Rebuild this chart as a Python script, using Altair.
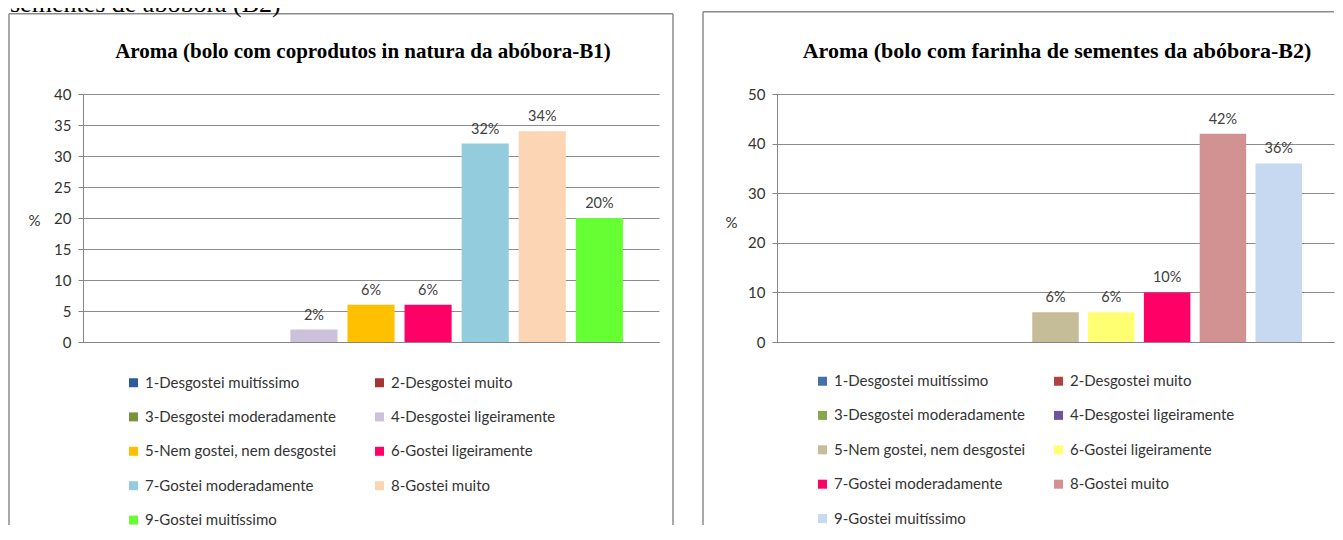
import altair as alt
import pandas as pd

# ---- data ----
categories = [
    "1-Desgostei muitíssimo",
    "2-Desgostei muito",
    "3-Desgostei moderadamente",
    "4-Desgostei ligeiramente",
    "5-Nem gostei, nem desgostei",
    "6-Gostei ligeiramente",
    "7-Gostei moderadamente",
    "8-Gostei muito",
    "9-Gostei muitíssimo",
]
b1_values = [0, 0, 0, 2, 6, 6, 32, 34, 20]
b2_values = [0, 0, 0, 0, 6, 6, 10, 42, 36]

b1_colors = ["#2E5C9A", "#A33431", "#779438", "#CCC1DA", "#FFC000",
             "#FF0066", "#93CDDD", "#FCD5B5", "#66FF33"]
b2_colors = ["#4472A8", "#AE4441", "#87A64E", "#6E5599", "#C4BD97",
             "#FFFF71", "#FF0066", "#D39292", "#C6D9F1"]

b1_ticks = [0, 5, 10, 15, 20, 25, 30, 35, 40]
b2_ticks = [0, 10, 20, 30, 40, 50]

b1_title = "Aroma (bolo com coprodutos in natura da abóbora-B1)"
b2_title = "Aroma (bolo com farinha de sementes da abóbora-B2)"
header_text = "sementes de abóbora (B2)"

SANS = "Lato"
SERIF = "Liberation Serif"
GRAY = "#868686"
TXT = "#333333"

one = pd.DataFrame({"k": [0]})


def panel(values, colors, ticks, ymax, title, width, pad_in, pad_out,
          ytitle_x, ytitle_y, leg_x, leg_y, col_pad, title_x, title_size,
          frame_top, frame_right, header=None):
    df = pd.DataFrame({
        "cat": categories,
        "val": values,
        "lab": [f"{v}%" for v in values],
    })
    xenc = alt.X("cat:N", sort=categories,
                 scale=alt.Scale(domain=categories, paddingInner=pad_in,
                                 paddingOuter=pad_out),
                 axis=alt.Axis(labels=False, ticks=False, title=None,
                               domain=True, domainColor=GRAY, grid=False))
    yenc = alt.Y("val:Q",
                 scale=alt.Scale(domain=[0, ymax], nice=False),
                 axis=alt.Axis(values=ticks, grid=True, gridColor="#8c8c8c",
                               gridWidth=1, domainColor=GRAY, tickColor=GRAY,
                               tickSize=5, labelPadding=7, labelFont=SANS,
                               labelFontSize=15, labelColor=TXT,
                               title="%", titleAngle=0, titleX=ytitle_x,
                               titleY=ytitle_y, titleAlign="center",
                               titleBaseline="middle", titleFont=SANS,
                               titleFontSize=15, titleFontWeight="normal",
                               titleColor=TXT))
    bars = alt.Chart(df).mark_bar().encode(
        x=xenc,
        y=yenc,
        color=alt.Color("cat:N", sort=categories,
                        scale=alt.Scale(domain=categories, range=colors),
                        legend=alt.Legend(orient="none", legendX=leg_x,
                                          legendY=leg_y, columns=2,
                                          direction="horizontal",
                                          symbolType="square", symbolSize=81,
                                          symbolStrokeWidth=0, title=None,
                                          labelFont=SANS, labelFontSize=15,
                                          labelColor=TXT, labelOffset=4,
                                          labelLimit=400, rowPadding=18.4,
                                          columnPadding=col_pad, padding=0)),
    )
    labels = alt.Chart(df).transform_filter("datum.val > 0").mark_text(
        font=SANS, fontSize=14.5, color="#404040", baseline="middle", dy=-14
    ).encode(x=xenc, y=yenc, text="lab:N")

    ttl = alt.Chart(one).mark_text(
        text=title, font=SERIF, fontSize=title_size, fontWeight="bold",
        color="black", align="center", baseline="alphabetic"
    ).encode(x=alt.value(title_x), y=alt.value(-36))

    frame_color = "#8c8c8c"
    top = alt.Chart(one).mark_rule(color=frame_color, strokeWidth=1.5).encode(
        x=alt.value(-74), x2=alt.value(frame_right), y=alt.value(frame_top))
    left = alt.Chart(one).mark_rule(color=frame_color, strokeWidth=1.5).encode(
        x=alt.value(-74), y=alt.value(frame_top), y2=alt.value(431))
    layers = [top, left, bars, labels, ttl]
    if frame_right > width:
        right = alt.Chart(one).mark_rule(color=frame_color, strokeWidth=1.5).encode(
            x=alt.value(frame_right), y=alt.value(frame_top), y2=alt.value(431))
        layers.append(right)
    if header is not None:
        hdr = alt.Chart(one).mark_text(
            text=header, font=SERIF, fontSize=26, color="black",
            align="left", baseline="alphabetic"
        ).encode(x=alt.value(-73), y=alt.value(-82))
        layers.append(hdr)
    return alt.layer(*layers).properties(width=width, height=248)


left_panel = panel(b1_values, b1_colors, b1_ticks, 40, b1_title, 576,
                   0.175, 0.632, -49, 126, 43, 281, 35, 280, 21,
                   -80.3, 590, header=header_text)
right_panel = panel(b2_values, b2_colors, b2_ticks, 50, b2_title, 557,
                    0.167, 0.574, -46, 128, 38, 279.5, 25, 280, 22,
                    -82.3, 557)

chart = alt.hconcat(left_panel, right_panel, spacing=118, bounds="flush").resolve_scale(
    color="independent", y="independent", x="independent"
).properties(
    padding={"top": -17, "left": 0, "right": 0, "bottom": 0}
).configure_view(stroke=None)

chart.save("out.html", embed_options={"renderer": "svg", "actions": False})
